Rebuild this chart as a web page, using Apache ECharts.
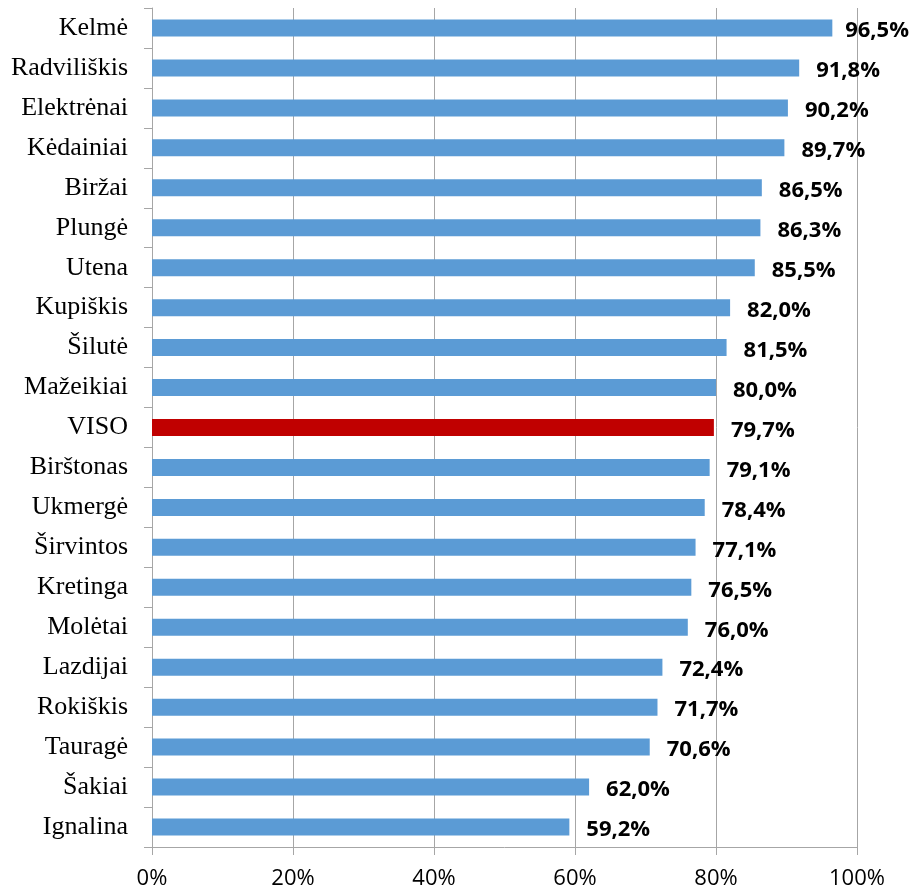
<!DOCTYPE html>
<html>
<head>
<meta charset="utf-8">
<script src="https://cdn.jsdelivr.net/npm/echarts@6/dist/echarts.min.js"></script>
<style>
  html, body { margin: 0; padding: 0; background: #fff; }
  #chart { width: 912px; height: 892px; }
</style>
</head>
<body>
<div id="chart"></div>
<script>
var categories = ['Kelmė', 'Radviliškis', 'Elektrėnai', 'Kėdainiai', 'Biržai', 'Plungė', 'Utena',
  'Kupiškis', 'Šilutė', 'Mažeikiai', 'VISO', 'Birštonas', 'Ukmergė', 'Širvintos', 'Kretinga',
  'Molėtai', 'Lazdijai', 'Rokiškis', 'Tauragė', 'Šakiai', 'Ignalina']
var values = [96.5, 91.8, 90.2, 89.7, 86.5, 86.3, 85.5, 82.0, 81.5, 80.0, 79.7, 79.1, 78.4, 77.1,
  76.5, 76.0, 72.4, 71.7, 70.6, 62.0, 59.2]
var highlight = 'VISO'

var myChart = echarts.init(document.getElementById('chart'))

var option = {
  animation: false,
  grid: { left: 152, right: 55, top: 8, bottom: 45 },
  xAxis: {
    type: 'value',
    min: 0,
    max: 100,
    interval: 20,
    axisLine: { show: true, lineStyle: { color: '#a6a6a6' } },
    axisTick: { show: true, length: 8, lineStyle: { color: '#a6a6a6' } },
    splitLine: { show: true, lineStyle: { color: '#a6a6a6', width: 1 } },
    axisLabel: {
      margin: 21,
      color: '#000',
      fontFamily: 'Open Sans',
      fontSize: 22,
      formatter: '{value}%'
    }
  },
  yAxis: {
    type: 'category',
    data: categories,
    inverse: true,
    axisLine: { show: true, lineStyle: { color: '#a6a6a6' } },
    axisTick: { show: true, length: 8, lineStyle: { color: '#a6a6a6' } },
    axisLabel: {
      margin: 24,
      color: '#000',
      fontFamily: 'Liberation Serif',
      fontSize: 26
    }
  },
  series: [{
    type: 'bar',
    barWidth: 17,
    data: values.map(function (v, i) {
      return {
        value: v,
        itemStyle: { color: categories[i] === highlight ? '#c00000' : '#5b9bd5' }
      }
    }),
    label: {
      show: true,
      position: 'right',
      distance: 17,
      color: '#000',
      fontFamily: 'Open Sans',
      fontWeight: 'bold',
      fontSize: 22,
      formatter: function (p) { return p.value.toFixed(1).replace('.', ',') + '%' }
    },
    // keep labels inside the chart, like the original does for the longest bar
    labelLayout: function (p) {
      var r = p.labelRect
      if (r.x + r.width > 909) {
        return { x: 909 - r.width, y: r.y + r.height / 2 + 3, align: 'left', verticalAlign: 'middle' }
      }
      return { y: r.y + r.height / 2 + 3, verticalAlign: 'middle' }
    }
  }]
}

myChart.setOption(option)
</script>
</body>
</html>
